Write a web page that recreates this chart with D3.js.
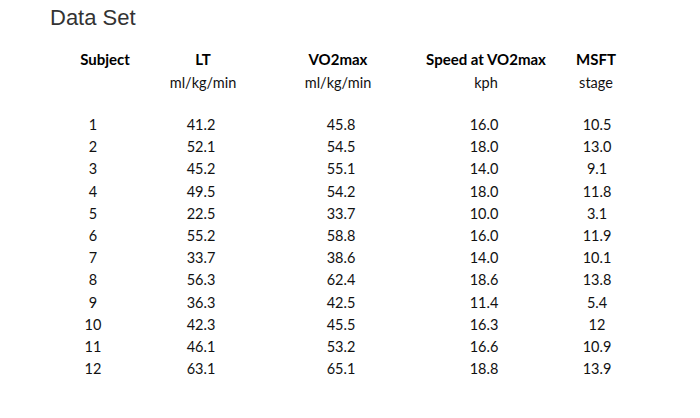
<!DOCTYPE html>
<html><head><meta charset="utf-8">
<script src="https://cdn.jsdelivr.net/npm/d3@7"></script>
<style>body{margin:0;background:#fff}</style>
</head><body>
<svg id="chart" width="700" height="418"></svg>
<script>
const headers = ["Subject", "LT", "VO2max", "Speed at VO2max", "MSFT"]
const units = ["", "ml/kg/min", "ml/kg/min", "kph", "stage"]
const subjects = ["1","2","3","4","5","6","7","8","9","10","11","12"]
const lt = ["41.2","52.1","45.2","49.5","22.5","55.2","33.7","56.3","36.3","42.3","46.1","63.1"]
const vo2max = ["45.8","54.5","55.1","54.2","33.7","58.8","38.6","62.4","42.5","45.5","53.2","65.1"]
const speed = ["16.0","18.0","14.0","18.0","10.0","16.0","14.0","18.6","11.4","16.3","16.6","18.8"]
const msft = ["10.5","13.0","9.1","11.8","3.1","11.9","10.1","13.8","5.4","12","10.9","13.9"]

const columns = [subjects, lt, vo2max, speed, msft]
const headX = [105, 203, 338, 486, 596]
const valX = [93, 201, 341, 484, 597]

const svg = d3.select("#chart")
const font = "Lato, 'Open Sans', sans-serif"

svg.append("text").attr("x", 50).attr("y", 25)
  .text("Data Set")
  .style("font-family", "'Liberation Sans', Arial, sans-serif")
  .style("font-size", "22px").style("fill", "#333")

const y = d3.scalePoint().domain(subjects).range([125, 369])

svg.selectAll(".head").data(headers).join("text")
  .attr("class", "head")
  .attr("x", (d, i) => headX[i]).attr("y", 65)
  .attr("text-anchor", "middle")
  .style("font-family", font).style("font-weight", "bold")
  .style("font-size", "15px").style("fill", "#000")
  .text(d => d)

svg.selectAll(".unit").data(units).join("text")
  .attr("class", "unit")
  .attr("x", (d, i) => headX[i]).attr("y", 88)
  .attr("text-anchor", "middle")
  .style("font-family", font).style("font-size", "14.5px").style("fill", "#111")
  .text(d => d)

columns.forEach((col, ci) => {
  svg.selectAll(".c" + ci).data(col).join("text")
    .attr("class", "c" + ci)
    .attr("x", valX[ci])
    .attr("y", (d, i) => y(subjects[i]))
    .attr("dy", "0.35em")
    .attr("text-anchor", "middle")
    .style("font-family", font).style("font-size", "14.5px").style("fill", "#111")
    .text(d => d)
})
</script>
</body></html>
